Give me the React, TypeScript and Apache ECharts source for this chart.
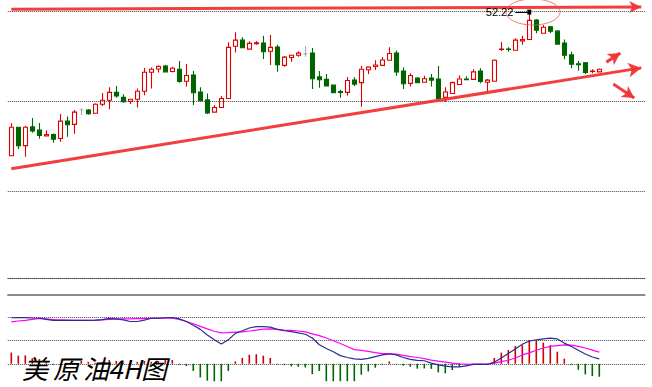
import React, { useEffect, useRef } from 'react';
import * as echarts from 'echarts';

// [open, close, lowest, highest] — 4-hour bars
const candles: number[][] = [
  [48.23, 49.02, 48.23, 49.13], [49.02, 48.51, 48.42, 49.02], [48.51, 49.02, 48.2, 49.06], [49.03, 48.92, 48.87, 49.28],
  [48.94, 48.79, 48.7, 49.14], [48.78, 48.82, 48.78, 48.94], [48.82, 48.69, 48.59, 48.85], [48.71, 49.19, 48.62, 49.39],
  [49.19, 49.09, 48.76, 49.32], [49.1, 49.44, 48.84, 49.5], [49.5, 49.5, 49.36, 49.55], [49.5, 49.4, 49.37, 49.53],
  [49.41, 49.66, 49.41, 49.69], [49.66, 49.77, 49.61, 49.97], [49.77, 49.99, 49.52, 50.13], [49.99, 49.89, 49.84, 50.17],
  [49.85, 49.73, 49.7, 49.94], [49.74, 49.8, 49.67, 49.81], [49.8, 50.02, 49.57, 50.1], [50.02, 50.55, 49.91, 50.67],
  [50.55, 50.63, 50.1, 50.68], [50.64, 50.71, 50.54, 50.74], [50.72, 50.56, 50.56, 50.75], [50.57, 50.66, 50.54, 50.7],
  [50.63, 50.29, 50.26, 50.86], [50.3, 50.46, 50.15, 50.78], [50.47, 49.98, 49.64, 50.58], [50.0, 49.76, 49.74, 50.13],
  [49.78, 49.42, 49.39, 49.96], [49.44, 49.57, 49.44, 49.64], [49.57, 49.82, 49.57, 49.89], [49.82, 51.24, 49.82, 51.38],
  [51.27, 51.44, 51.1, 51.66], [51.44, 51.23, 51.23, 51.52], [51.19, 51.35, 51.19, 51.41], [51.34, 51.37, 51.31, 51.42],
  [51.36, 51.12, 50.92, 51.56], [51.13, 51.24, 50.75, 51.58], [51.25, 50.76, 50.56, 51.31], [50.74, 50.97, 50.7, 51.0],
  [50.96, 51.02, 50.84, 51.02], [51.02, 51.08, 50.98, 51.13], [51.06, 51.06, 50.98, 51.28], [51.08, 50.37, 50.08, 51.22],
  [50.42, 50.34, 50.12, 50.58], [50.35, 50.17, 50.16, 50.5], [50.19, 49.98, 49.98, 50.21], [50.01, 49.99, 49.84, 50.06],
  [49.99, 50.32, 49.9, 50.42], [50.33, 50.22, 50.17, 50.41], [50.26, 50.63, 49.59, 50.72], [50.62, 50.69, 50.5, 50.69],
  [50.71, 50.75, 50.61, 50.88], [50.74, 50.89, 50.74, 50.97], [50.88, 51.07, 50.88, 51.24], [51.08, 50.56, 50.45, 51.15],
  [50.58, 50.23, 50.08, 50.68], [50.24, 50.46, 50.15, 50.52], [50.39, 50.26, 50.26, 50.41], [50.27, 50.37, 50.27, 50.45],
  [50.39, 50.33, 50.15, 50.5], [50.36, 49.82, 49.78, 50.72], [49.85, 50.0, 49.72, 50.13], [49.96, 50.26, 49.96, 50.29],
  [50.21, 50.36, 50.21, 50.46], [50.36, 50.34, 50.33, 50.44], [50.35, 50.56, 50.35, 50.63], [50.58, 50.29, 50.24, 50.66],
  [50.27, 50.33, 49.96, 50.36], [50.3, 50.88, 50.3, 50.91], [51.18, 51.19, 51.14, 51.39], [51.19, 51.18, 51.12, 51.24],
  [51.16, 51.44, 51.16, 51.49], [51.42, 51.46, 51.31, 51.56], [51.46, 51.99, 51.46, 52.22], [52.0, 51.72, 51.63, 52.03],
  [51.63, 51.8, 51.63, 51.86], [51.81, 51.69, 51.63, 51.84], [51.69, 51.33, 51.31, 51.72], [51.36, 51.02, 50.91, 51.46],
  [51.03, 50.77, 50.66, 51.12], [50.78, 50.76, 50.59, 50.86], [50.81, 50.54, 50.5, 50.83], [50.57, 50.58, 50.52, 50.63],
  [50.56, 50.63, 50.56, 50.65],
];

// MACD panel
const dif = [
  0.198, 0.199, 0.199, 0.197, 0.196, 0.191, 0.187, 0.187, 0.187, 0.187, 0.187, 0.187, 0.188, 0.19, 0.195, 0.193,
  0.189, 0.182, 0.182, 0.188, 0.196, 0.196, 0.198, 0.199, 0.193, 0.182, 0.166, 0.148, 0.124, 0.103, 0.085, 0.103,
  0.131, 0.142, 0.154, 0.16, 0.16, 0.158, 0.148, 0.142, 0.138, 0.133, 0.127, 0.111, 0.082, 0.066, 0.052, 0.035,
  0.027, 0.021, 0.019, 0.023, 0.031, 0.038, 0.042, 0.038, 0.027, 0.019, 0.015, 0.013, 0.003, -0.005, -0.01, -0.013,
  -0.013, -0.009, -0.003, -0.003, -0.003, 0.007, 0.025, 0.044, 0.064, 0.084, 0.098, 0.103, 0.107, 0.11, 0.107, 0.089,
  0.074, 0.058, 0.042, 0.029, 0.021,
];
const dea = [
  0.18, 0.184, 0.187, 0.191, 0.195, 0.193, 0.19, 0.189, 0.188, 0.187, 0.187, 0.187, 0.187, 0.189, 0.191, 0.192,
  0.193, 0.193, 0.194, 0.194, 0.195, 0.195, 0.196, 0.196, 0.191, 0.182, 0.172, 0.161, 0.15, 0.14, 0.133, 0.134,
  0.136, 0.137, 0.141, 0.145, 0.149, 0.15, 0.148, 0.145, 0.144, 0.141, 0.137, 0.129, 0.121, 0.111, 0.099, 0.087,
  0.074, 0.061, 0.058, 0.053, 0.048, 0.044, 0.044, 0.042, 0.036, 0.031, 0.027, 0.022, 0.016, 0.011, 0.007, 0.003,
  0.0, -0.002, -0.001, -0.001, -0.001, 0.003, 0.009, 0.015, 0.025, 0.038, 0.047, 0.058, 0.068, 0.075, 0.078, 0.081,
  0.08, 0.075, 0.068, 0.059, 0.05,
];
const macdHist = [
  0.048, 0.035, 0.036, 0.024, 0.02, 0.006, -0.004, -0.004, 0.004, 0.004, 0.012, 0.008, 0.004, 0.008, 0.016, 0.012,
  0.004, -0.004, 0.008, 0.012, 0.008, 0.012, 0.02, 0.016, -0.004, -0.01, -0.031, -0.059, -0.073, -0.075, -0.075, -0.031,
  0.01, 0.025, 0.039, 0.041, 0.035, 0.025, -0.003, -0.006, -0.011, -0.013, -0.016, -0.045, -0.031, -0.075, -0.075, -0.075,
  -0.075, -0.075, -0.047, -0.033, -0.017, -0.004, 0.01, -0.002, -0.008, -0.013, -0.021, -0.02, -0.022, -0.037, -0.041, -0.027,
  -0.012, -0.008, -0.002, -0.002, -0.002, 0.025, 0.048, 0.059, 0.076, 0.08, 0.1, 0.098, 0.091, 0.08, 0.052, 0.022,
  -0.004, -0.026, -0.046, -0.053, -0.056,
];

const EMPTY_SLOTS = 6;
const categories = [
  ...candles.map((_, i) => 'K' + (i + 1)),
  ...Array.from({ length: EMPTY_SLOTS }, (_, i) => 'E' + (i + 1)),
];

const priceGridLevels = [52.25, 49.75, 47.25];
const priceMin = 44.8333;
const priceMax = 52.5;

// hand-drawn trend arrows: [bar index, price]
const trendFrom = [[0, 52.3], [0, 47.87], [85, 50.83], [86, 50.22]];
const trendTo = [[90, 52.36], [90, 50.67], [87, 51.08], [89, 49.83]];
const arrowHeads = [[9, 12], [11, 13], [10, 12], [10, 12]];

const peakLabel = '52.22';
const peakValue = 52.22;
const peakFrom = 72;
const peakTo = 74;

const titleChars = ['美', '原', '油', '4H', '图'];

export default function App() {
  const ref = useRef<HTMLDivElement>(null);
  useEffect(() => {
    if (!ref.current) return;
    const chart = echarts.init(ref.current, null, { renderer: 'svg' });
    const redUp = '#dd0000';
    const greenDn = '#006400';
    const annot = '#f03434';
    const dotted: any = { color: '#444', width: 1, type: [1, 1] };

    const markData: any[] = [];
    priceGridLevels.forEach((v) =>
      markData.push({ yAxis: v, symbol: 'none', lineStyle: dotted, label: { show: false } })
    );
    trendFrom.forEach((f, i) => {
      const t = trendTo[i];
      markData.push([
        { coord: [categories[f[0]], f[1]], symbol: 'none' },
        {
          coord: [categories[t[0]], t[1]],
          symbol: 'arrow',
          symbolSize: arrowHeads[i],
          itemStyle: { color: annot },
          lineStyle: { color: annot, width: 3, type: 'solid', opacity: 0.95 },
          label: { show: false },
        },
      ]);
    });
    markData.push([
      { coord: [categories[peakFrom], peakValue], symbol: 'none' },
      {
        coord: [categories[peakTo], peakValue],
        symbol: 'rect',
        symbolSize: [5, 4],
        itemStyle: { color: '#000' },
        lineStyle: { color: '#000', width: 1, type: 'solid' },
        label: {
          show: true,
          position: 'start',
          formatter: peakLabel,
          color: '#000',
          fontSize: 11,
          fontFamily: 'Liberation Sans',
          distance: 2,
        },
      },
    ]);

    const graphic: any[] = [
      {
        type: 'ellipse',
        shape: { cx: 533, cy: 12, rx: 27, ry: 13 },
        style: { fill: 'none', stroke: 'rgba(230,80,80,0.75)', lineWidth: 1 },
        silent: true,
        z: 100,
      },
    ];
    const charX = [22, 53, 83, 108, 141];
    titleChars.forEach((c, i) =>
      graphic.push({
        type: 'text',
        x: charX[i],
        y: 354,
        z: 100,
        silent: true,
        style: {
          text: c,
          fontSize: 26,
          fontStyle: 'italic',
          fontFamily: 'Noto Sans CJK SC',
          fill: '#000',
          verticalAlign: 'top',
        },
      })
    );

    const hidden = { show: false };
    chart.setOption({
      animation: false,
      backgroundColor: '#fff',
      grid: [
        { left: 7.8, top: 2, width: 637, height: 276 },
        { left: 7.8, top: 317.3, width: 637, height: 76.5 },
      ],
      xAxis: [
        {
          type: 'category',
          gridIndex: 0,
          data: categories,
          boundaryGap: true,
          axisLine: { show: true, onZero: false, lineStyle: dotted },
          axisTick: hidden,
          axisLabel: hidden,
          splitLine: hidden,
        },
        {
          type: 'category',
          gridIndex: 1,
          data: categories,
          boundaryGap: true,
          position: 'top',
          offset: 23,
          axisLine: { show: true, onZero: false, lineStyle: { color: '#666', width: 1.5 } },
          axisTick: hidden,
          axisLabel: hidden,
          splitLine: hidden,
        },
      ],
      yAxis: [
        {
          type: 'value',
          gridIndex: 0,
          min: priceMin,
          max: priceMax,
          axisLine: hidden,
          axisTick: hidden,
          axisLabel: hidden,
          splitLine: hidden,
        },
        {
          type: 'value',
          gridIndex: 1,
          min: -0.1,
          max: 0.2,
          interval: 0.1,
          axisLine: hidden,
          axisTick: hidden,
          axisLabel: hidden,
          splitLine: { show: true, lineStyle: dotted },
        },
      ],
      series: [
        {
          type: 'candlestick',
          xAxisIndex: 0,
          yAxisIndex: 0,
          data: candles,
          barWidth: 4.6,
          clip: false,
          silent: true,
          itemStyle: {
            color: '#fff',
            color0: greenDn,
            borderColor: redUp,
            borderColor0: greenDn,
            borderColorDoji: '#aaaaaa',
            borderWidth: 1.1,
          },
          markLine: {
            silent: true,
            symbol: 'none',
            label: { show: false },
            emphasis: { disabled: true },
            data: markData,
          },
        },
        {
          type: 'bar',
          xAxisIndex: 1,
          yAxisIndex: 1,
          barWidth: 1.6,
          silent: true,
          data: macdHist.map((v) => ({ value: v, itemStyle: { color: v >= 0 ? '#cc0000' : '#006600' } })),
        },
        {
          type: 'line',
          xAxisIndex: 1,
          yAxisIndex: 1,
          data: dea,
          symbol: 'none',
          silent: true,
          clip: false,
          lineStyle: { color: '#ff00ff', width: 1.2 },
        },
        {
          type: 'line',
          xAxisIndex: 1,
          yAxisIndex: 1,
          data: dif,
          symbol: 'none',
          silent: true,
          clip: false,
          lineStyle: { color: '#2b2b90', width: 1.2 },
        },
      ],
      graphic,
    });
    return () => chart.dispose();
  }, []);

  return (
    <div
      ref={ref}
      style={{ position: 'fixed', left: 0, top: 0, width: 652, height: 387, background: '#fff' }}
    />
  );
}
